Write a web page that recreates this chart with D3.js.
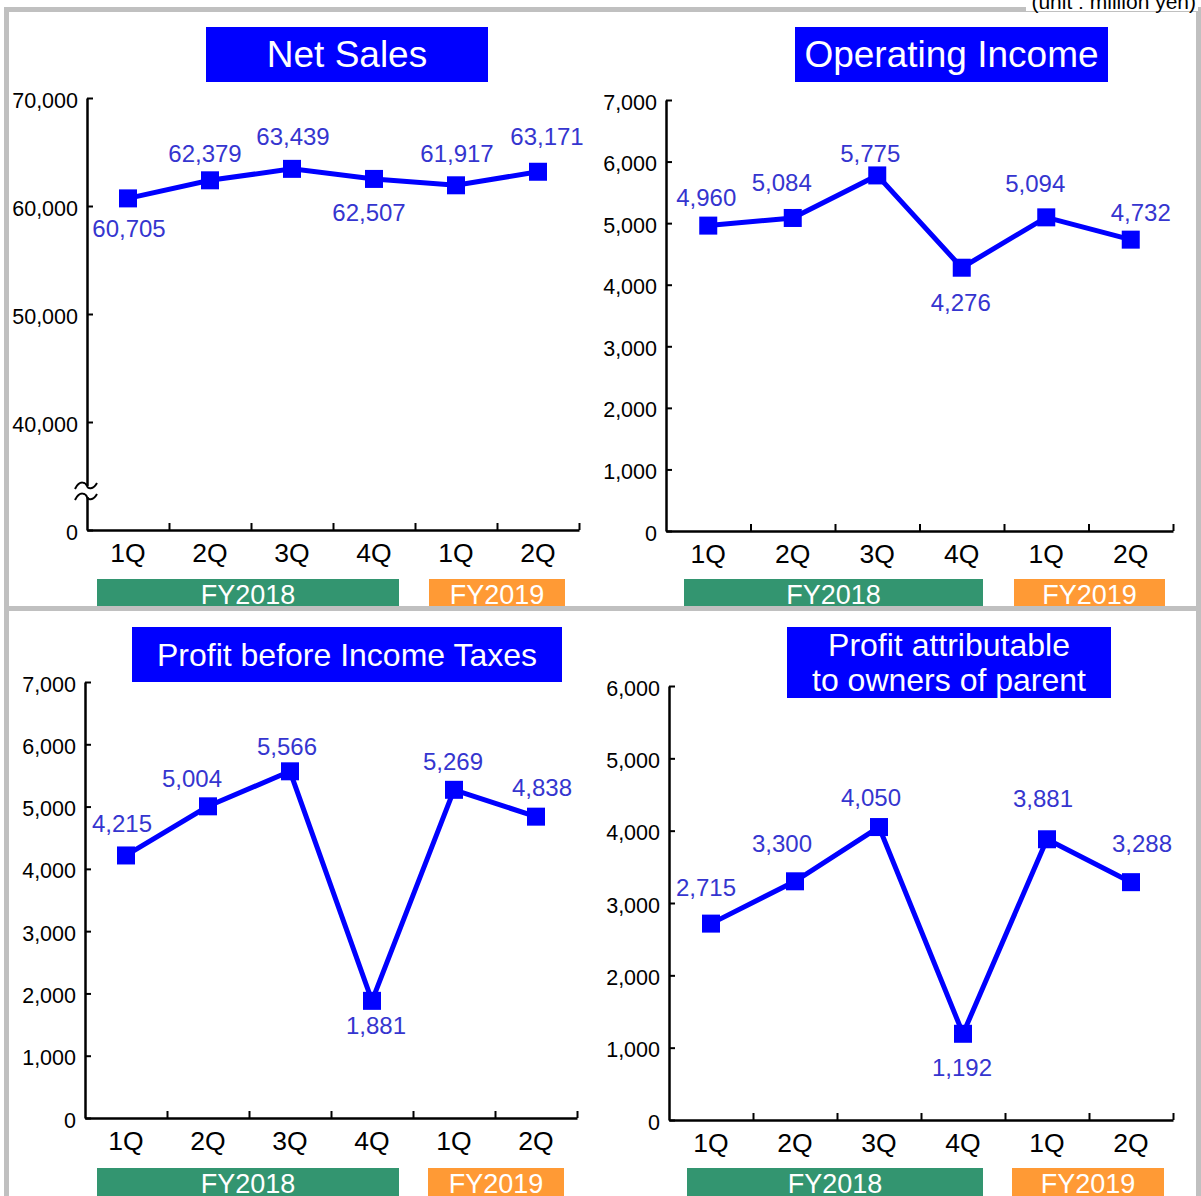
<!DOCTYPE html>
<html>
<head>
<meta charset="utf-8">
<script src="https://cdn.jsdelivr.net/npm/d3@7"></script>
<style>
  html, body { margin: 0; padding: 0; background: #ffffff; }
  svg { display: block; font-family: "Liberation Sans", Arial, sans-serif; }
</style>
</head>
<body>
<svg id="chart" width="1201" height="1196"></svg>
<script>
// Quarterly results (unit: million yen)
const quarters = ["1Q", "2Q", "3Q", "4Q", "1Q", "2Q"];
const fiscalYears = ["FY2018", "FY2019"];
const fiscalYearColors = ["#339570", "#ff9a35"];

const netSales        = [60705, 62379, 63439, 62507, 61917, 63171];
const operatingIncome = [4960, 5084, 5775, 4276, 5094, 4732];
const profitBeforeTax = [4215, 5004, 5566, 1881, 5269, 4838];
const profitOwners    = [2715, 3300, 4050, 1192, 3881, 3288];

const netSalesTicks = [30000, 40000, 50000, 60000, 70000];   // 30,000 sits at the broken baseline, shown as "0"
const oiTicks  = [0, 1000, 2000, 3000, 4000, 5000, 6000, 7000];
const pbtTicks = [0, 1000, 2000, 3000, 4000, 5000, 6000, 7000];
const patTicks = [0, 1000, 2000, 3000, 4000, 5000, 6000];

const LINE = "#0000ff";
const LABEL = "#3535cf";
const fmt = d3.format(",");

const svg = d3.select("#chart");

// Panel frames
svg.append("rect").attr("x", 4).attr("y", 7).attr("width", 1197).attr("height", 5).attr("fill", "#c0c0c0");
svg.append("rect").attr("x", 4).attr("y", 7).attr("width", 5).attr("height", 1189).attr("fill", "#c0c0c0");
svg.append("rect").attr("x", 1196).attr("y", 7).attr("width", 5).attr("height", 1189).attr("fill", "#c0c0c0");
svg.append("rect").attr("x", 4).attr("y", 606).attr("width", 1197).attr("height", 5).attr("fill", "#c0c0c0");

// Unit note
svg.append("rect").attr("x", 1026).attr("y", 0).attr("width", 172).attr("height", 11).attr("fill", "#fff");
svg.append("text").attr("x", 1196).attr("y", 9).attr("text-anchor", "end")
  .attr("font-size", 21).attr("fill", "#000").text("(unit : million yen)");

const panels = [
  {
    title: ["Net Sales"], titleBox: [206, 27, 488, 82], titleSize: 37,
    values: netSales, domain: [30000, 70000], ticks: netSalesTicks,
    tickFormat: d => d === 30000 ? "0" : fmt(d), axisBreak: true,
    x0: 87, x1: 579, yTop: 98, yBottom: 530,
    fyBars: [[97, 399], [429, 565]], fyTop: 579,
    offsets: [[1, 30], [-5, -27], [1, -32], [-5, 34], [1, -32], [9, -35]]
  },
  {
    title: ["Operating Income"], titleBox: [795, 27, 1108, 82], titleSize: 37,
    values: operatingIncome, domain: [0, 7000], ticks: oiTicks, tickFormat: fmt,
    x0: 666, x1: 1173, yTop: 100, yBottom: 531,
    fyBars: [[684, 983], [1014, 1165]], fyTop: 579,
    offsets: [[-2, -28], [-11, -35], [-7, -22], [-1, 35], [-11, -34], [10, -27]]
  },
  {
    title: ["Profit before Income Taxes"], titleBox: [132, 627, 562, 682], titleSize: 32,
    values: profitBeforeTax, domain: [0, 7000], ticks: pbtTicks, tickFormat: fmt,
    x0: 85, x1: 577, yTop: 682, yBottom: 1118,
    fyBars: [[97, 399], [428, 564]], fyTop: 1168,
    offsets: [[-4, -32], [-16, -28], [-3, -25], [4, 25], [-1, -28], [6, -29]]
  },
  {
    title: ["Profit attributable", "to owners of parent"], titleBox: [787, 627, 1111, 698], titleSize: 32,
    values: profitOwners, domain: [0, 6000], ticks: patTicks, tickFormat: fmt,
    x0: 669, x1: 1173, yTop: 686, yBottom: 1120,
    fyBars: [[687, 983], [1012, 1164]], fyTop: 1168,
    offsets: [[-5, -36], [-13, -38], [-8, -29], [-1, 34], [-4, -41], [11, -39]]
  }
];

panels.forEach(p => {
  const g = svg.append("g");

  // Title box
  const [bx0, by0, bx1, by1] = p.titleBox;
  g.append("rect").attr("x", bx0).attr("y", by0).attr("width", bx1 - bx0).attr("height", by1 - by0).attr("fill", "#0000ff");
  const lineH = (by1 - by0) / p.title.length;
  p.title.forEach((t, i) => {
    g.append("text").attr("x", (bx0 + bx1) / 2).attr("y", by0 + lineH * (i + 0.5))
      .attr("dy", "0.35em").attr("text-anchor", "middle")
      .attr("font-size", p.titleSize).attr("fill", "#fff").text(t);
  });

  // Scales
  const x = d3.scaleBand().domain(d3.range(quarters.length)).range([p.x0, p.x1]).paddingInner(0).paddingOuter(0);
  const xEdge = d3.scaleLinear().domain([0, quarters.length]).range([p.x0, p.x1]);
  const y = d3.scaleLinear().domain(p.domain).range([p.yBottom, p.yTop]);
  const cx = i => x(i) + x.bandwidth() / 2;

  // Y axis, ticks pointing inward
  const yAxis = g.append("g").attr("transform", `translate(${p.x0},0)`)
    .call(d3.axisLeft(y).tickValues(p.ticks).tickFormat(p.tickFormat).tickSize(-6).tickSizeOuter(0).tickPadding(9));
  yAxis.select(".domain").attr("stroke", "#000").attr("stroke-width", 2.5);
  yAxis.selectAll(".tick line").attr("stroke", "#000").attr("stroke-width", 2);
  yAxis.selectAll(".tick text").attr("font-size", 21.5).attr("fill", "#000")
    .attr("font-family", "Liberation Sans, Arial, sans-serif").attr("dy", "0.42em");

  // X axis: boundary ticks
  const xAxis = g.append("g").attr("transform", `translate(0,${p.yBottom})`)
    .call(d3.axisBottom(xEdge).tickValues(d3.range(1, quarters.length + 1)).tickFormat("").tickSize(-7).tickSizeOuter(0));
  xAxis.select(".domain").attr("stroke", "#000").attr("stroke-width", 2.5);
  xAxis.selectAll(".tick line").attr("stroke", "#000").attr("stroke-width", 2);

  // X axis: quarter labels
  const xLab = g.append("g").attr("transform", `translate(0,${p.yBottom})`)
    .call(d3.axisBottom(x).tickFormat(i => quarters[i]).tickSize(0).tickPadding(13));
  xLab.select(".domain").remove();
  xLab.selectAll(".tick text").attr("font-size", 26.5).attr("fill", "#000")
    .attr("font-family", "Liberation Sans, Arial, sans-serif");

  // Fiscal year bands
  fiscalYears.forEach((fy, k) => {
    const [fx0, fx1] = p.fyBars[k];
    g.append("rect").attr("x", fx0).attr("y", p.fyTop).attr("width", fx1 - fx0).attr("height", 28)
      .attr("fill", fiscalYearColors[k]);
    g.append("text").attr("x", (fx0 + fx1) / 2).attr("y", p.fyTop + 25).attr("text-anchor", "middle")
      .attr("font-size", 27).attr("fill", "#fff").text(fy);
  });
  // keep the gray divider above the fiscal year bands
  if (p.fyTop < 600) {
    g.append("rect").attr("x", 4).attr("y", 606).attr("width", 1197).attr("height", 5).attr("fill", "#c0c0c0");
  }

  // Axis break marks
  if (p.axisBreak) {
    const bx = p.x0, b1 = 486, b2 = 497;
    g.append("rect").attr("x", bx - 3).attr("y", b1).attr("width", 6).attr("height", b2 - b1).attr("fill", "#fff");
    [b1, b2].forEach(by => {
      g.append("path")
        .attr("d", `M${bx - 12},${by + 3} C${bx - 7},${by - 7} ${bx - 1},${by - 3} ${bx},${by} S${bx + 6},${by + 4} ${bx + 10},${by - 3}`)
        .attr("fill", "none").attr("stroke", "#000").attr("stroke-width", 2);
    });
  }

  // Series line
  g.append("path").datum(p.values)
    .attr("d", d3.line().x((d, i) => cx(i)).y(d => y(d)))
    .attr("fill", "none").attr("stroke", LINE).attr("stroke-width", 5).attr("stroke-linejoin", "miter");

  // Markers
  g.selectAll("rect.mk").data(p.values).join("rect").attr("class", "mk")
    .attr("x", (d, i) => cx(i) - 9).attr("y", d => y(d) - 9)
    .attr("width", 18).attr("height", 18).attr("fill", LINE);

  // Value labels
  g.selectAll("text.val").data(p.values).join("text").attr("class", "val")
    .attr("x", (d, i) => cx(i) + p.offsets[i][0])
    .attr("y", (d, i) => y(d) + p.offsets[i][1])
    .attr("dy", "0.35em").attr("text-anchor", "middle")
    .attr("font-size", 24).attr("fill", LABEL).text(d => fmt(d));
});
</script>
</body>
</html>
